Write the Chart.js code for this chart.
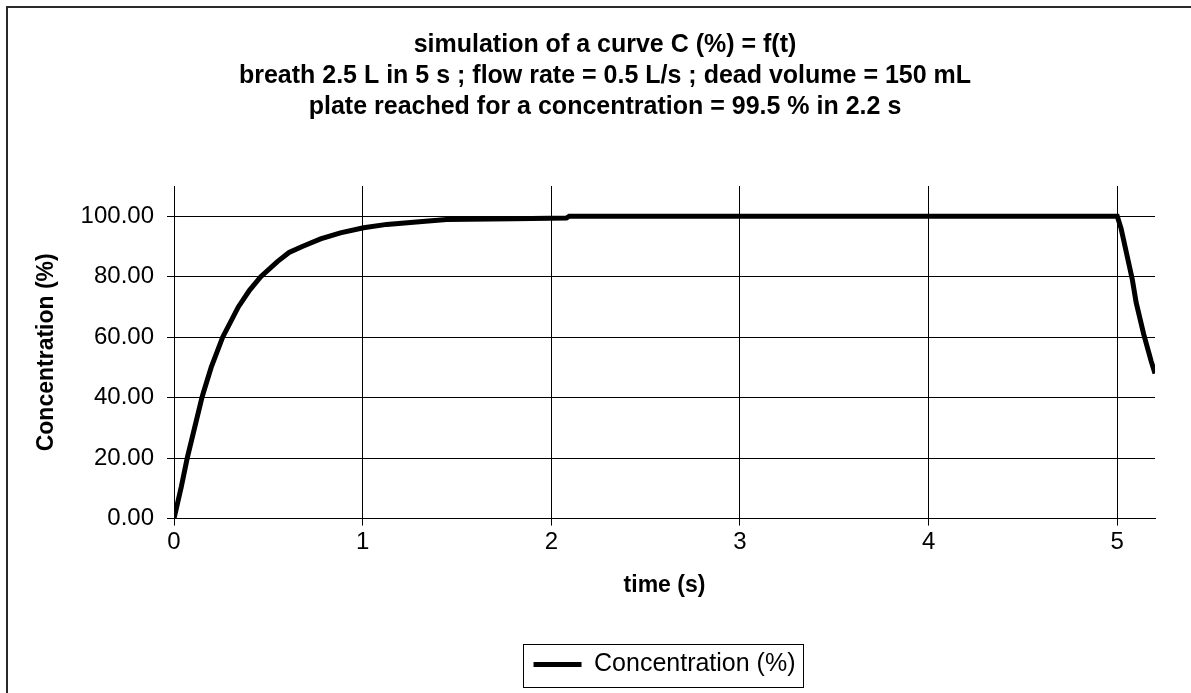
<!DOCTYPE html>
<html>
<head>
<meta charset="utf-8">
<title>simulation of a curve C (%) = f(t)</title>
<script src="https://cdn.jsdelivr.net/npm/chart.js@4.4.1/dist/chart.umd.min.js"></script>
<style>
  html, body { margin: 0; padding: 0; background: #fff; overflow: hidden; }
  #chart { position: absolute; left: 0; top: 0; }
  #frame {
    position: absolute; left: 6px; top: 6px; width: 1300px; height: 800px;
    border: 2px solid #2a2a2a; box-sizing: border-box; pointer-events: none;
  }
</style>
</head>
<body>
<canvas id="chart" width="1191" height="693"></canvas>
<div id="frame"></div>
<script>
// values
const titleLines = [
  "simulation of a curve C (%) = f(t)",
  "breath 2.5 L in 5 s ; flow rate = 0.5 L/s ; dead volume = 150 mL",
  "plate reached for a concentration = 99.5 % in 2.2 s"
];
const seriesLabel = "Concentration (%)";
const xTitle = "time (s)";
const yTitle = "Concentration (%)";

const timeS = [0, 0.039, 0.070, 0.109, 0.148, 0.156, 0.197, 0.258, 0.341, 0.400,
  0.460, 0.548, 0.610, 0.680, 0.777, 0.882, 1.005, 1.128, 1.269, 1.445,
  1.800, 2.080, 2.095, 5.000, 5.020, 5.050, 5.080, 5.100, 5.140, 5.180, 5.200, 5.230];
const concentration = [0, 10.6, 20, 30, 40, 41.7, 50, 60, 70, 75.5,
  80, 85, 88, 90, 92.5, 94.5, 96.2, 97.3, 98.0, 98.9,
  99.2, 99.4, 100, 100, 96, 87.5, 79, 71.5, 61, 52, 48, 44];

const xMin = 0, xMax = 5.2, xStep = 1;
const yMin = 0, yMax = 110, yStep = 20;

const FONT = '"Liberation Sans", Arial, sans-serif';
Chart.defaults.font.family = FONT;
Chart.defaults.color = "#000";

const points = timeS.map((t, i) => ({ x: t, y: concentration[i] }));

// title lines and the frame round the legend
const decorations = {
  id: "decorations",
  afterDraw(chart) {
    const ctx = chart.ctx;
    ctx.save();
    ctx.fillStyle = "#000";
    ctx.textAlign = "center";
    ctx.textBaseline = "middle";
    ctx.font = "bold 25px " + FONT;
    titleLines.forEach((line, i) => ctx.fillText(line, 605, 45 + i * 31));

    const hb = chart.legend.legendHitBoxes[0];
    if (hb) {
      ctx.strokeStyle = "#000";
      ctx.lineWidth = 1;
      ctx.strokeRect(Math.round(hb.left) - 10.5, Math.round(hb.top) - 7.5,
        Math.round(hb.width) + 18, Math.round(hb.height) + 18);
    }
    ctx.restore();
  }
};

new Chart(document.getElementById("chart").getContext("2d"), {
  type: "line",
  data: {
    datasets: [{
      label: seriesLabel,
      data: points,
      borderColor: "#000",
      backgroundColor: "#000",
      borderWidth: 5,
      pointRadius: 0,
      tension: 0,
      fill: false
    }]
  },
  options: {
    responsive: false,
    animation: false,
    layout: { padding: { top: 186, bottom: 6, left: 8, right: 36 } },
    scales: {
      x: {
        type: "linear",
        min: xMin,
        max: xMax,
        grid: { color: "#000", lineWidth: 1, tickLength: 7, drawTicks: true },
        border: { color: "#000", width: 1 },
        ticks: { stepSize: xStep, includeBounds: false, padding: 2, font: { size: 24 } },
        title: {
          display: true, text: xTitle,
          font: { size: 23, weight: "bold" },
          padding: { top: 13, bottom: 43 }
        }
      },
      y: {
        min: yMin,
        max: yMax,
        grid: { color: "#000", lineWidth: 1, tickLength: 7, drawTicks: true },
        border: { color: "#000", width: 1 },
        ticks: {
          stepSize: yStep, includeBounds: false, padding: 13, font: { size: 24 },
          callback: v => v.toFixed(2)
        },
        title: {
          display: true, text: yTitle,
          font: { size: 23, weight: "bold" },
          padding: { top: 25, bottom: 7 }
        }
      }
    },
    plugins: {
      title: { display: false },
      tooltip: { enabled: false },
      legend: {
        position: "bottom",
        fullSize: false,
        labels: {
          usePointStyle: true,
          pointStyle: "line",
          pointStyleWidth: 48,
          padding: 10,
          font: { size: 25 },
          color: "#000"
        }
      }
    }
  },
  plugins: [decorations]
});
</script>
</body>
</html>
